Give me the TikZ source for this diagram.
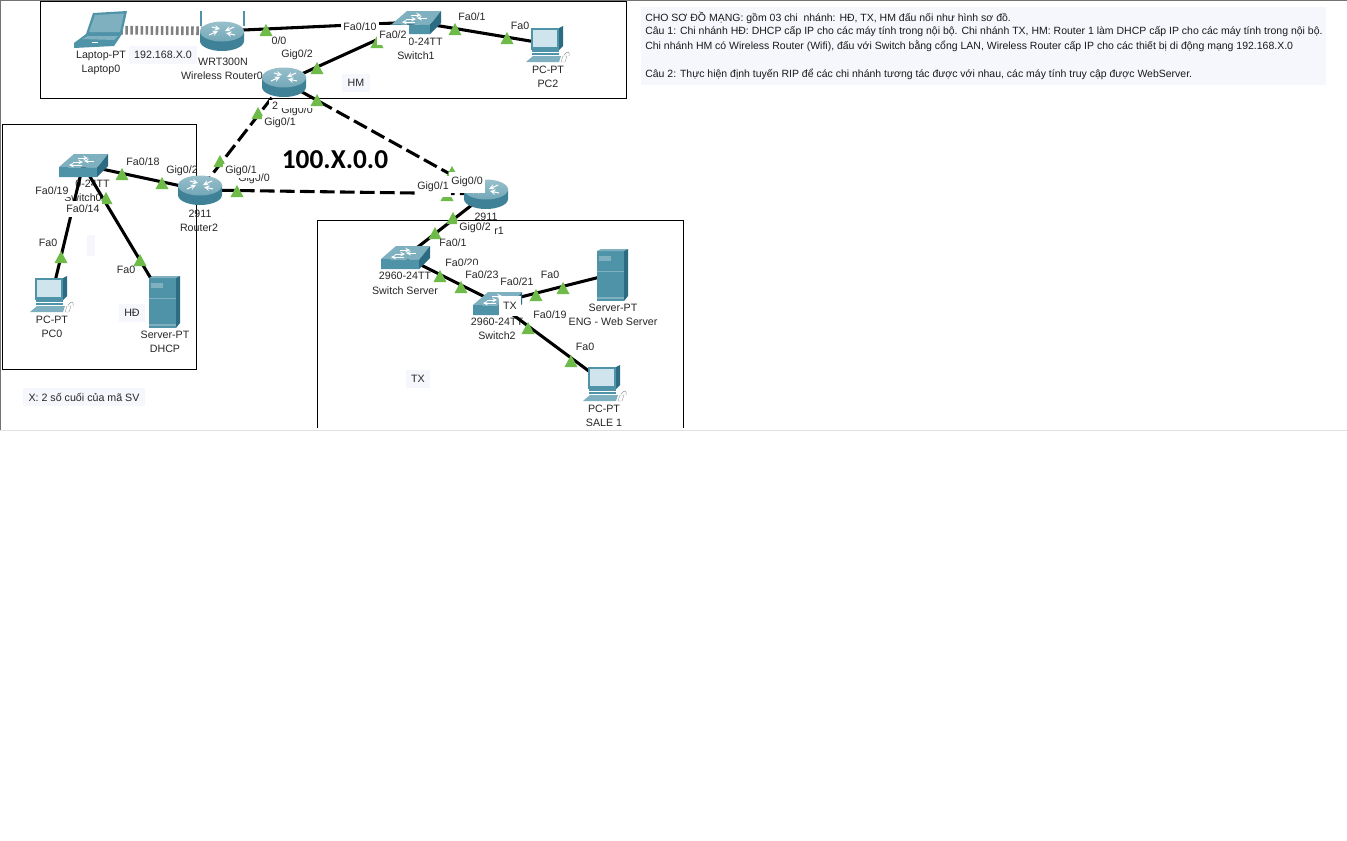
\documentclass[tikz,border=0pt]{standalone}
\usepackage{fontspec}
\setmainfont{Liberation Sans}
\newfontfamily\bigfont{Carlito}
\usetikzlibrary{calc}
\definecolor{tealA}{HTML}{3F8298}
\definecolor{tealB}{HTML}{7FB0BF}
\definecolor{tealC}{HTML}{2B6C82}
\definecolor{tealD}{HTML}{4F93A9}
\definecolor{screenC}{HTML}{CFE4EC}
\definecolor{noteC}{HTML}{F6F7FC}
\definecolor{triC}{HTML}{6FBB4A}
\tikzset{
  x=0.75pt,y=-0.75pt,
  dev/.style={inner sep=0pt,minimum size=2pt},
  lnk/.style={line width=2.3pt,black},
  wan/.style={line width=2.3pt,black,dash pattern=on 11pt off 4pt},
  wifi/.style={line width=6.5pt,color=black!50,dash pattern=on 1.9pt off 1.9pt},
  lbl/.style={font=\fontsize{8}{9}\selectfont,inner sep=0pt,text=black!85},
  plbl/.style={lbl,fill=white,inner xsep=2pt,inner ysep=1.5pt},
  nlbl/.style={lbl,fill=noteC,inner xsep=4pt,inner ysep=4pt},
  desc/.style={font=\fontsize{7.87}{9}\selectfont,inner sep=0pt,anchor=west,text=black!90},
  boxr/.style={draw=black,line width=0.65pt},
}
\newcommand{\routericon}[2]{%
  \begin{scope}[shift={(#1,#2)}]
    \path[left color=tealA,middle color=white,right color=tealA]
      (-22,-5) -- (-22,5) arc[start angle=180,end angle=360,x radius=16.5pt,y radius=7.5pt] -- (22,-5) -- cycle;
    \path[top color=tealB!80!white,bottom color=tealB!80!tealA] (0,-4.5) ellipse[x radius=16.5pt,y radius=7.5pt];
    \draw[white,line width=0.8pt,-stealth] (-13,-1) -- (-4,-5);
    \draw[white,line width=0.8pt,-stealth] (12,-9) -- (3,-5);
    \draw[white,line width=0.8pt,-stealth] (-10,-9) -- (-2,-7);
    \draw[white,line width=0.8pt,-stealth] (13,-1) -- (4,-3);
  \end{scope}}
\newcommand{\switchicon}[2]{%
  \begin{scope}[shift={(#1,#2)}]
    \fill[tealB] (0,14) -- (15,1) -- (49,1) -- (38,15) -- cycle;
    \fill[tealD] (0,14) -- (38,15) -- (38,24) -- (0,24) -- cycle;
    \fill[tealC] (38,15) -- (49,1) -- (49,13) -- (38,24) -- cycle;
    \draw[white,line width=0.6pt,-stealth] (19,5) -- (29,5);
    \draw[white,line width=0.6pt,-stealth] (35,8) -- (25,8);
    \draw[white,line width=0.6pt,-stealth] (14,9) -- (24,9);
    \draw[white,line width=0.6pt,-stealth] (23,12) -- (10,12);
  \end{scope}}
\newcommand{\pcicon}[2]{%
  \begin{scope}[shift={(#1,#2)}]
    \fill[tealD] (5,2) -- (33,2) -- (33,24) -- (5,24) -- cycle;
    \fill[tealC] (33,2) -- (37,0) -- (37,20) -- (33,24) -- cycle;
    \fill[screenC] (7,4) rectangle (31,21);
    \fill[tealD] (6,24) rectangle (33,29);
    \draw[white,line width=0.4pt] (6,26.5) -- (33,26.5);
    \fill[tealB] (0,36) -- (7,30) -- (35,30) -- (33,36) -- cycle;
    \fill[white,draw=black!40,line width=0.3pt] (37,30) -- (41,30) -- (39,36) -- (35,36) -- cycle;
    \draw[black!40,line width=0.4pt] (38,29) .. controls (42,24) and (44,26) .. (43,30);
  \end{scope}}
\newcommand{\servericon}[2]{%
  \begin{scope}[shift={(#1,#2)}]
    \fill[tealD] (0,2) rectangle (27,52);
    \fill[tealB] (0,2) -- (4,0) -- (31,0) -- (27,2) -- cycle;
    \fill[tealC] (27,2) -- (31,0) -- (31,47) -- (27,52) -- cycle;
    \fill[tealB] (2,7) rectangle (14,12);
    \draw[tealB,line width=0.4pt] (0,22) -- (27,22);
    \fill[tealB] (0,48) rectangle (27,50);
  \end{scope}}
\newcommand{\laptopicon}[2]{%
  \begin{scope}[shift={(#1,#2)}]
    \fill[tealD] (19,2) -- (53,0) -- (48,23) -- (12,23) -- cycle;
    \fill[tealB] (21,4) -- (50,2.5) -- (46,21) -- (15,21) -- cycle;
    \fill[tealD] (0,32) -- (12,23) -- (48,23) -- (40,35) -- (0,37) -- cycle;
    \fill[tealB] (8,28) -- (14,25) -- (44,25) -- (40,29) -- cycle;
    \draw[white,line width=0.4pt] (18,31) -- (24,31);
  \end{scope}}
\newcommand{\wrwings}[2]{%
  \draw[tealD,line width=1pt] (#1-21,#2-20) -- (#1-21,#2-5);
  \draw[tealD,line width=1pt] (#1+22,#2-20) -- (#1+22,#2-5);}
\newcommand{\tri}[2]{\fill[triC] (#1-6.5,#2+6) -- (#1,#2-6) -- (#1+6.5,#2+6) -- cycle;}
\begin{document}
\begin{tikzpicture}
\useasboundingbox (0,0) rectangle (1347,840);
\fill[white] (0,0) rectangle (1347,840);
% window edges
\draw[black!55,line width=1.2pt] (0,0.5) -- (1347,0.5);
\draw[black!55,line width=1.2pt] (0.5,0) -- (0.5,430);
\draw[black!12,line width=0.7pt] (0,430) -- (1347,430);
% notes background
\fill[noteC] (641,7) rectangle (1326,85);
\fill[noteC] (87,235) rectangle (95,256);
% area boxes
\draw[boxr] (40,1) rectangle (626,98);
\draw[boxr] (2,124) rectangle (196,369);
\draw[boxr] (317,428) -- (317,220) -- (683,220) -- (683,428);
% device anchors
\node[dev] (laptop) at (100,30) {};
\node[dev] (wr) at (222,31) {};
\node[dev] (r0) at (284,82) {};
\node[dev] (sw1) at (416,22) {};
\node[dev] (pc2) at (548,44) {};
\node[dev] (sw0) at (83,165) {};
\node[dev] (r2) at (200,190) {};
\node[dev] (pc0) at (52,294) {};
\node[dev] (dhcp) at (165,302) {};
\node[dev] (r1) at (486,194) {};
\node[dev] (swsrv) at (405,257) {};
\node[dev] (sw2) at (497,303) {};
\node[dev] (web) at (612,274) {};
\node[dev] (sale) at (605,383) {};
% device labels
\node[lbl] (l1) at (101,56) {Laptop-PT};
\node[lbl] (l2) at (101,70) {Laptop0};
\node[lbl] (l3) at (223,62) {WRT300N};
\node[lbl] (l4) at (222,76) {Wireless Router0};
\node[lbl,anchor=east] (l5) at (443,42) {0-24TT};
\node[lbl] (l6) at (416,56) {Switch1};
\node[lbl] (l7) at (548,70) {PC-PT};
\node[lbl] (l8) at (548,84) {PC2};
\node[lbl,anchor=east] (l9) at (110,184) {0-24TT};
\node[lbl] (l10) at (83,198) {Switch0};
\node[lbl] (l11) at (200,214) {2911};
\node[lbl] (l12) at (199,228) {Router2};
\node[lbl] (l13) at (52,320) {PC-PT};
\node[lbl] (l14) at (52,334) {PC0};
\node[lbl] (l15) at (165,335) {Server-PT};
\node[lbl] (l16) at (165,349) {DHCP};
\node[lbl] (l17) at (486,217) {2911};
\node[lbl] (l18) at (499,231) {r1};
\node[lbl] (l19) at (405,276) {2960-24TT};
\node[lbl] (l20) at (405,291) {Switch Server};
\node[lbl] (l21) at (497,322) {2960-24TT};
\node[lbl] (l22) at (497,336) {Switch2};
\node[lbl] (l23) at (613,308) {Server-PT};
\node[lbl] (l24) at (613,322) {ENG - Web Server};
\node[lbl] (l25) at (604,409) {PC-PT};
\node[lbl] (l26) at (604,423) {SALE 1};
% connectors
\draw[wifi] (laptop.center) -- (wr.center);
\draw[lnk] (wr.center) -- (sw1.center);
\draw[lnk] (r0.center) -- (sw1.center);
\draw[lnk] (sw1.center) -- (pc2.center);
\draw[wan] (r0.center) -- (r2.center);
\draw[wan] (r0.center) -- (r1.center);
\draw[wan] (r2.center) -- (r1.center);
\draw[lnk] (sw0.center) -- (r2.center);
\draw[lnk] (sw0.center) -- (pc0.center);
\draw[lnk] (sw0.center) -- (dhcp.center);
\draw[lnk] (r1.center) -- (swsrv.center);
\draw[lnk] (swsrv.center) -- (sw2.center);
\draw[lnk] (sw2.center) -- (web.center);
\draw[lnk] (sw2.center) -- (sale.center);
% devices
\laptopicon{74}{11}
\wrwings{222}{31}
\routericon{222}{36}
\routericon{284}{82}
\switchicon{392}{10}
\pcicon{526}{26}
\switchicon{59}{153}
\routericon{200}{190}
\pcicon{30}{276}
\servericon{149}{276}
\routericon{486}{194}
\switchicon{381}{245}
\switchicon{473}{291}
\servericon{597}{249}
\pcicon{583}{365}
% link lights
\tri{266}{30}\tri{317}{68}\tri{258}{113}\tri{317}{100}\tri{220}{161}\tri{237}{191}
\tri{162}{183}\tri{122}{174}\tri{106}{198}\tri{377}{42}\tri{455}{29}\tri{507}{38}
\tri{452}{172}\tri{447}{195}\tri{453}{218}\tri{435}{233}\tri{440}{276}\tri{461}{287}
\tri{536}{295}\tri{563}{288}\tri{528}{328}\tri{571}{361}\tri{61}{257}\tri{140}{260}
% port labels
\node[lbl] (p1) at (279,41) {0/0};
\node[lbl] (p2) at (297,55) {Gig0/2};
\node[plbl] (p3) at (360,27) {Fa0/10};
\node[plbl,minimum height=15pt] (p4) at (393,35) {Fa0/2};
\node[lbl] (p5) at (472,17) {Fa0/1};
\node[lbl] (p6) at (520,26) {Fa0};
\node[plbl] (p7a) at (275,106) {2};
\begin{scope}
  \clip (270,108.5) rectangle (320,125);
  \node[lbl] (p7) at (297,111) {Gig0/0};
\end{scope}
\node[plbl] (p8) at (280,123) {Gig0/1};
\node[lbl] (p9) at (143,162) {Fa0/18};
\node[lbl] (p10) at (182,171) {Gig0/2};
\node[lbl] (p11) at (254,179) {Gig0/0};
\node[plbl] (p12) at (241,171) {Gig0/1};
\node[plbl,minimum height=12pt] (p13) at (83,209) {Fa0/14};
\node[plbl] (p14) at (52,191) {Fa0/19};
\node[lbl] (p15) at (48,243) {Fa0};
\node[lbl] (p16) at (126,270) {Fa0};
\node[plbl,minimum height=15.75pt] (p17) at (433,186.5) {Gig0/1};
\node[plbl,minimum height=15.75pt] (p18) at (467,182) {Gig0/0};
\node[plbl] (p19) at (475,228) {Gig0/2};
\node[lbl] (p20) at (453,243) {Fa0/1};
\node[lbl] (p21) at (462,263) {Fa0/20};
\node[plbl] (p23) at (517,282) {Fa0/21};
\node[plbl,minimum height=14pt] (p22) at (482,274.5) {Fa0/23};
\node[lbl] (p24) at (550,275) {Fa0};
\node[plbl,inner xsep=3.5pt,inner ysep=5pt] (p25) at (510,306) {TX};
\node[plbl] (p26) at (550,315) {Fa0/19};
\node[lbl] (p27) at (585,347) {Fa0};
% notes
\node[nlbl] (n1) at (163,55) {192.168.X.0};
\node[nlbl] (n2) at (356,83) {HM};
\node[nlbl] (n3) at (132,313) {HĐ};
\node[nlbl] (n4) at (418,379) {TX};
\node[nlbl] (n5) at (84,397) {X: 2 số cuối của mã SV};
\node[inner sep=0pt,font=\bigfont\bfseries\fontsize{20.5}{24}\selectfont,text=black] (big) at (335,160) {100.X.0.0};
\node[desc] (d1) at (645,18) {CHO SƠ ĐỒ MẠNG: gồm 03 chi\ \ nhánh: HĐ, TX, HM đấu nối như hình sơ đồ.};
\node[desc] (d2) at (645,32) {Câu 1: Chi nhánh HĐ: DHCP cấp IP cho các máy tính trong nội bộ. Chi nhánh TX, HM: Router 1 làm DHCP cấp IP cho các máy tính trong nội bộ.};
\node[desc] (d3) at (645,46) {Chi nhánh HM có Wireless Router (Wifi), đấu với Switch bằng cổng LAN, Wireless Router cấp IP cho các thiết bị di động mạng 192.168.X.0};
\node[desc] (d4) at (645,74) {Câu 2: Thực hiện định tuyến RIP để các chi nhánh tương tác được với nhau, các máy tính truy cập được WebServer.};
\end{tikzpicture}
\end{document}
